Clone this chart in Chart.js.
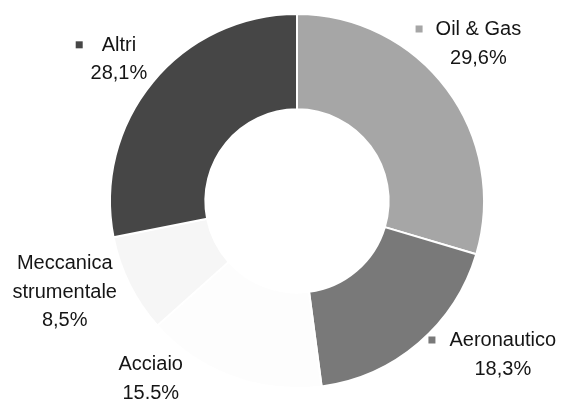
<!DOCTYPE html>
<html>
<head>
<meta charset="utf-8">
<script src="https://cdn.jsdelivr.net/npm/chart.js@4/dist/chart.umd.min.js"></script>
<style>
  html, body { margin: 0; padding: 0; background: #ffffff; }
  #wrap { width: 564px; height: 405px; position: relative; }
</style>
</head>
<body>
<div id="wrap"><canvas id="c" width="564" height="405"></canvas></div>
<script>
// ---- data ----
const categories = ['Oil & Gas', 'Aeronautico', 'Acciaio', 'Meccanica strumentale', 'Altri'];
const labelLines = [['Oil & Gas'], ['Aeronautico'], ['Acciaio'], ['Meccanica', 'strumentale'], ['Altri']];
const shares = [29.6, 18.3, 15.5, 8.5, 28.1];
const shareTexts = ['29,6%', '18,3%', '15.5%', '8,5%', '28,1%'];

// ---- styling ----
const colors = ['#a6a6a6', '#797979', '#fdfdfd', '#f6f6f6', '#464646'];
const showKey = [true, true, false, false, true];
const keyGap = [13, 14, 0, 0, 19];
const labelShift = [[-6, -17.5], [54, -24], [-65, -41], [-23, -13], [2.5, 7]];

const outsideLabels = {
  id: 'outsideLabels',
  afterDatasetsDraw(chart) {
    const ctx = chart.ctx;
    const meta = chart.getDatasetMeta(0);
    const lineH = 28.5;
    ctx.save();
    ctx.font = '20px "Liberation Sans", Arial, sans-serif';
    ctx.textAlign = 'center';
    ctx.textBaseline = 'middle';
    meta.data.forEach((arc, i) => {
      const mid = (arc.startAngle + arc.endAngle) / 2;
      const r = arc.outerRadius * 1.25;
      const cx = arc.x + Math.cos(mid) * r + labelShift[i][0];
      const cy = arc.y + Math.sin(mid) * r + labelShift[i][1];
      const lines = labelLines[i].concat([shareTexts[i]]);
      const y0 = cy - (lines.length - 1) * lineH / 2;
      ctx.fillStyle = '#151515';
      lines.forEach((t, k) => ctx.fillText(t, cx, y0 + k * lineH));
      if (showKey[i]) {
        const w = ctx.measureText(lines[0]).width;
        const sx = cx - w / 2 - keyGap[i] - 7;
        ctx.fillStyle = colors[i];
        ctx.fillRect(sx, y0 - 4, 7, 7);
      }
    });
    ctx.restore();
  }
};

new Chart(document.getElementById('c'), {
  type: 'doughnut',
  data: {
    labels: categories,
    datasets: [{
      data: shares,
      backgroundColor: colors,
      borderColor: '#ffffff',
      borderWidth: 2,
      hoverOffset: 0
    }]
  },
  options: {
    responsive: false,
    animation: false,
    cutout: '49%',
    layout: { padding: { top: 13, bottom: 16, left: 30, right: 0 } },
    plugins: {
      legend: { display: false },
      tooltip: { enabled: false }
    }
  },
  plugins: [outsideLabels]
});
</script>
</body>
</html>
